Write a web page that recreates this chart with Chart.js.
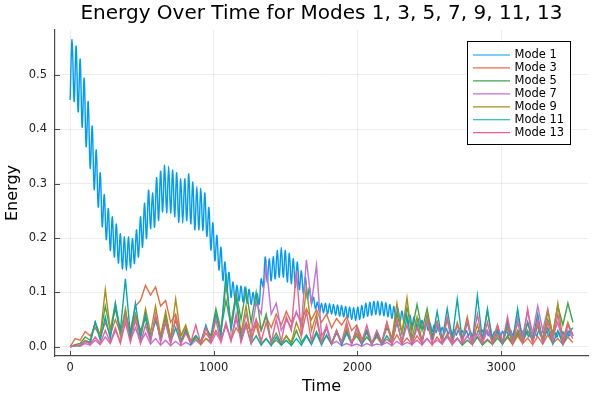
<!DOCTYPE html>
<html><head><meta charset="utf-8">
<script src="https://cdn.jsdelivr.net/npm/chart.js@4.4.1/dist/chart.umd.min.js"></script>
<style>html,body{margin:0;padding:0;background:#fff}#wrap{width:600px;height:400px}</style>
</head><body><div id="wrap"><canvas id="c" width="600" height="400"></canvas></div>
<script>
const titleText = "Energy Over Time for Modes 1, 3, 5, 7, 9, 11, 13";
const xLabel = "Time";
const yLabel = "Energy";
const modeNames = ["Mode 1","Mode 3","Mode 5","Mode 7","Mode 9","Mode 11","Mode 13"];
const modeColors = ["#009AFA","#E36F47","#3EA44E","#C371D2","#AC8E18","#00AAAE","#ED5E93"];
const xTicks = [0, 1000, 2000, 3000];
const xTickLabels = ["0","1000","2000","3000"];
const yTicks = [0, 0.1, 0.2, 0.3, 0.4, 0.5];
const yTickLabels = ["0.0","0.1","0.2","0.3","0.4","0.5"];
const mode1Step = 14;
const otherStep = 35;

const mode1 = [
0.454,0.565,0.451,0.553,0.432,0.529,0.404,0.494,0.368,0.451,
0.328,0.406,0.289,0.362,0.257,0.320,0.221,0.280,0.197,0.254,
0.177,0.239,0.165,0.226,0.154,0.208,0.143,0.202,0.140,0.202,
0.145,0.199,0.153,0.215,0.165,0.239,0.183,0.264,0.199,0.288,
0.217,0.283,0.220,0.311,0.232,0.323,0.248,0.334,0.246,0.332,
0.246,0.325,0.239,0.320,0.229,0.309,0.227,0.309,0.232,0.318,
0.226,0.303,0.215,0.295,0.215,0.291,0.214,0.283,0.203,0.256,
0.178,0.228,0.158,0.205,0.141,0.183,0.122,0.156,0.103,0.137,
0.091,0.119,0.085,0.113,0.084,0.112,0.082,0.110,0.080,0.106,
0.078,0.100,0.075,0.098,0.078,0.125,0.110,0.165,0.119,0.162,
0.121,0.166,0.125,0.177,0.128,0.183,0.128,0.177,0.119,0.172,
0.116,0.162,0.109,0.156,0.105,0.140,0.097,0.128,0.088,0.109,
0.079,0.091,0.070,0.082,0.063,0.080,0.062,0.080,0.060,0.079,
0.060,0.078,0.058,0.077,0.056,0.076,0.055,0.074,0.052,0.073,
0.050,0.072,0.048,0.073,0.050,0.076,0.053,0.080,0.056,0.082,
0.058,0.084,0.059,0.084,0.058,0.083,0.057,0.081,0.055,0.078,
0.052,0.074,0.049,0.070,0.046,0.066,0.044,0.062,0.041,0.058,
0.038,0.055,0.036,0.052,0.034,0.049,0.032,0.046,0.030,0.043,
0.028,0.040,0.026,0.038,0.025,0.036,0.024,0.034,0.023,0.033,
0.022,0.032,0.021,0.031,0.021,0.030,0.020,0.030,0.020,0.029,
0.019,0.030,0.020,0.031,0.021,0.031,0.021,0.030,0.020,0.029,
0.019,0.028,0.018,0.028,0.018,0.029,0.019,0.030,0.020,0.031,
0.021,0.031,0.021,0.030,0.020,0.029,0.019,0.028,0.018,0.028,
0.018,0.029,0.019,0.030,0.020,0.030,0.020,0.029,0.019,0.028,
0.018,0.027,0.017,0.027,0.017,0.028,0.018,0.029,0.019,0.029,
0.020];

const mode3 = [
0.000,0.015,0.012,0.028,0.020,0.035,0.018,0.045,0.022,0.050,
0.025,0.055,0.030,0.075,0.085,0.113,0.095,0.110,0.075,0.085,
0.045,0.060,0.020,0.035,0.010,0.020,0.008,0.025,0.012,0.030,
0.015,0.040,0.012,0.035,0.020,0.045,0.025,0.050,0.030,0.055,
0.035,0.060,0.040,0.065,0.045,0.062,0.048,0.070,0.050,0.068,
0.045,0.060,0.035,0.052,0.040,0.055,0.030,0.040,0.015,0.025,
0.006,0.018,0.004,0.014,0.006,0.022,0.005,0.016,0.004,0.020,
0.006,0.015,0.003,0.018,0.005,0.024,0.006,0.016,0.004,0.020,
0.006,0.018,0.004,0.014,0.005,0.022,0.006,0.017,0.004,0.020,
0.006,0.016,0.004,0.019,0.005,0.022,0.006,0.015,0.004,0.018,
0.008];

const mode5 = [
0.000,0.004,0.006,0.018,0.012,0.045,0.020,0.075,0.030,0.070,
0.025,0.065,0.020,0.060,0.030,0.052,0.015,0.048,0.020,0.055,
0.015,0.050,0.012,0.030,0.008,0.020,0.010,0.035,0.020,0.070,
0.030,0.085,0.040,0.100,0.050,0.105,0.045,0.100,0.030,0.060,
0.008,0.025,0.006,0.020,0.005,0.030,0.008,0.022,0.006,0.028,
0.008,0.035,0.006,0.025,0.010,0.030,0.008,0.020,0.005,0.018,
0.006,0.022,0.008,0.035,0.015,0.060,0.025,0.072,0.030,0.078,
0.030,0.070,0.020,0.045,0.008,0.020,0.004,0.015,0.003,0.012,
0.004,0.018,0.003,0.012,0.004,0.016,0.005,0.020,0.006,0.025,
0.008,0.030,0.010,0.038,0.012,0.050,0.025,0.075,0.040,0.080,
0.045];

const mode7 = [
0.000,0.002,0.001,0.006,0.003,0.012,0.004,0.018,0.006,0.030,
0.010,0.055,0.012,0.035,0.008,0.025,0.005,0.015,0.003,0.012,
0.002,0.010,0.002,0.008,0.003,0.012,0.004,0.015,0.006,0.025,
0.010,0.040,0.015,0.050,0.020,0.060,0.025,0.080,0.060,0.150,
0.060,0.080,0.030,0.050,0.035,0.065,0.040,0.160,0.080,0.150,
0.020,0.035,0.005,0.010,0.002,0.006,0.002,0.005,0.001,0.006,
0.002,0.005,0.003,0.008,0.002,0.010,0.003,0.008,0.004,0.012,
0.003,0.015,0.004,0.012,0.005,0.018,0.004,0.015,0.006,0.020,
0.005,0.025,0.006,0.030,0.008,0.035,0.010,0.045,0.015,0.055,
0.020,0.065,0.025,0.075,0.030,0.070,0.020,0.045,0.010,0.030,
0.015];

const mode9 = [
0.000,0.002,0.003,0.012,0.008,0.045,0.020,0.105,0.030,0.080,
0.020,0.070,0.015,0.060,0.020,0.070,0.025,0.075,0.020,0.065,
0.015,0.088,0.020,0.040,0.008,0.015,0.004,0.015,0.010,0.060,
0.030,0.115,0.040,0.095,0.025,0.075,0.015,0.040,0.006,0.015,
0.004,0.012,0.003,0.020,0.008,0.045,0.020,0.110,0.030,0.060,
0.008,0.020,0.005,0.030,0.006,0.035,0.008,0.025,0.006,0.030,
0.005,0.028,0.008,0.045,0.015,0.080,0.025,0.090,0.015,0.055,
0.010,0.060,0.012,0.045,0.010,0.050,0.008,0.045,0.015,0.055,
0.008,0.040,0.010,0.065,0.012,0.040,0.008,0.035,0.006,0.030,
0.008,0.045,0.010,0.040,0.015,0.065,0.020,0.080,0.012,0.045,
0.020];

const mode11 = [
0.000,0.002,0.002,0.010,0.008,0.045,0.012,0.055,0.015,0.080,
0.030,0.125,0.020,0.080,0.015,0.060,0.010,0.055,0.012,0.045,
0.008,0.035,0.006,0.030,0.005,0.020,0.008,0.040,0.012,0.060,
0.020,0.135,0.030,0.090,0.012,0.040,0.006,0.020,0.003,0.015,
0.002,0.018,0.003,0.012,0.002,0.015,0.003,0.020,0.004,0.025,
0.003,0.022,0.004,0.030,0.003,0.025,0.005,0.035,0.004,0.030,
0.004,0.025,0.005,0.020,0.006,0.045,0.008,0.055,0.006,0.040,
0.008,0.050,0.010,0.065,0.012,0.070,0.015,0.088,0.010,0.045,
0.008,0.094,0.012,0.070,0.010,0.030,0.005,0.045,0.008,0.070,
0.010,0.045,0.012,0.060,0.008,0.035,0.005,0.030,0.004,0.025,
0.035];

const mode13 = [
0.000,0.002,0.003,0.010,0.005,0.018,0.006,0.030,0.008,0.035,
0.006,0.045,0.008,0.050,0.006,0.040,0.010,0.060,0.008,0.045,
0.006,0.055,0.005,0.025,0.008,0.040,0.006,0.035,0.010,0.050,
0.008,0.045,0.010,0.060,0.008,0.040,0.006,0.050,0.010,0.045,
0.008,0.050,0.010,0.055,0.030,0.140,0.020,0.065,0.010,0.050,
0.008,0.040,0.006,0.030,0.008,0.045,0.005,0.035,0.008,0.040,
0.006,0.030,0.008,0.045,0.005,0.050,0.008,0.040,0.006,0.035,
0.008,0.050,0.006,0.045,0.008,0.055,0.006,0.040,0.008,0.050,
0.006,0.060,0.008,0.045,0.005,0.040,0.008,0.055,0.006,0.045,
0.008,0.070,0.006,0.050,0.008,0.045,0.010,0.060,0.006,0.040,
0.020];

const seriesValues = [mode1, mode3, mode5, mode7, mode9, mode11, mode13];
const seriesSteps = [mode1Step, otherStep, otherStep, otherStep, otherStep, otherStep, otherStep];

const FONT = '"DejaVu Sans", "Liberation Sans", sans-serif';
const AXIS_COLOR = '#4a4a4a';

const datasets = seriesValues.map((vals, k) => ({
  label: modeNames[k],
  data: vals.map((v, i) => ({x: i * seriesSteps[k], y: v})),
  borderColor: modeColors[k],
  backgroundColor: modeColors[k],
  borderWidth: 1.4,
  pointRadius: 0,
  tension: k === 0 ? 0.35 : 0,
  fill: false,
  order: seriesValues.length - k
}));

const decorPlugin = {
  id: 'decor',
  afterDatasetsDraw(chart) {
    const ctx = chart.ctx;
    const ca = chart.chartArea;
    const xs = chart.scales.x, ys = chart.scales.y;
    ctx.save();
    ctx.strokeStyle = AXIS_COLOR;
    ctx.lineWidth = 1;
    yTicks.forEach(v => {
      const py = Math.round(ys.getPixelForValue(v)) + 0.5;
      ctx.beginPath(); ctx.moveTo(ca.left, py); ctx.lineTo(ca.left + 5, py); ctx.stroke();
    });
    xTicks.forEach(v => {
      const px = Math.round(xs.getPixelForValue(v)) + 0.5;
      ctx.beginPath(); ctx.moveTo(px, ca.bottom); ctx.lineTo(px, ca.bottom - 5); ctx.stroke();
    });
    ctx.fillStyle = '#000';
    ctx.font = '20px ' + FONT;
    ctx.textAlign = 'center';
    ctx.textBaseline = 'alphabetic';
    ctx.fillText(titleText, (ca.left + ca.right) / 2, 19);
    ctx.font = '16px ' + FONT;
    ctx.fillText(xLabel, (ca.left + ca.right) / 2, 391);
    ctx.save();
    ctx.translate(17, (ca.top + ca.bottom) / 2);
    ctx.rotate(-Math.PI / 2);
    ctx.fillText(yLabel, 0, 0);
    ctx.restore();
    const bx = 467.5, by = 41.5, bw = 103, bh = 103;
    ctx.fillStyle = '#fff';
    ctx.fillRect(bx, by, bw, bh);
    ctx.strokeStyle = '#000';
    ctx.lineWidth = 1;
    ctx.strokeRect(bx, by, bw, bh);
    ctx.font = '11.5px ' + FONT;
    ctx.textAlign = 'left';
    ctx.textBaseline = 'middle';
    chart.data.datasets.forEach((ds, k) => {
      const ry = 55 + 12.95 * k;
      ctx.strokeStyle = ds.borderColor;
      ctx.lineWidth = 1.2;
      ctx.beginPath(); ctx.moveTo(473, ry); ctx.lineTo(510, ry); ctx.stroke();
      ctx.fillStyle = '#000';
      ctx.fillText(ds.label, 514.5, ry + 0.5);
    });
    ctx.restore();
  }
};

new Chart(document.getElementById('c'), {
  type: 'line',
  data: { datasets },
  options: {
    responsive: false,
    animation: false,
    events: [],
    layout: { padding: { top: 30, right: 12, left: 0, bottom: 0 } },
    plugins: { legend: { display: false }, title: { display: false }, tooltip: { enabled: false } },
    scales: {
      x: {
        type: 'linear',
        min: -105, max: 3605,
        afterBuildTicks: s => { s.ticks = xTicks.map(v => ({ value: v })); },
        afterFit: s => { s.height = 44; },
        ticks: {
          autoSkip: false, maxRotation: 0, padding: 5,
          color: '#222', font: { family: FONT, size: 11.5 },
          callback: (v) => xTickLabels[xTicks.indexOf(v)]
        },
        grid: { color: 'rgba(0,0,0,0.07)', lineWidth: 1, drawTicks: false },
        border: { display: true, color: AXIS_COLOR, width: 1.2 }
      },
      y: {
        type: 'linear',
        min: -0.017, max: 0.5826,
        afterBuildTicks: s => { s.ticks = yTicks.map(v => ({ value: v })); },
        afterFit: s => { s.width = 55; },
        ticks: {
          autoSkip: false, padding: 8,
          color: '#222', font: { family: FONT, size: 11.5 },
          callback: (v) => { const i = yTicks.findIndex(t => Math.abs(t - v) < 1e-9); return i >= 0 ? yTickLabels[i] : ''; }
        },
        grid: { color: 'rgba(0,0,0,0.07)', lineWidth: 1, drawTicks: false },
        border: { display: true, color: AXIS_COLOR, width: 1.2 }
      }
    }
  },
  plugins: [decorPlugin]
});
</script>
</body></html>
